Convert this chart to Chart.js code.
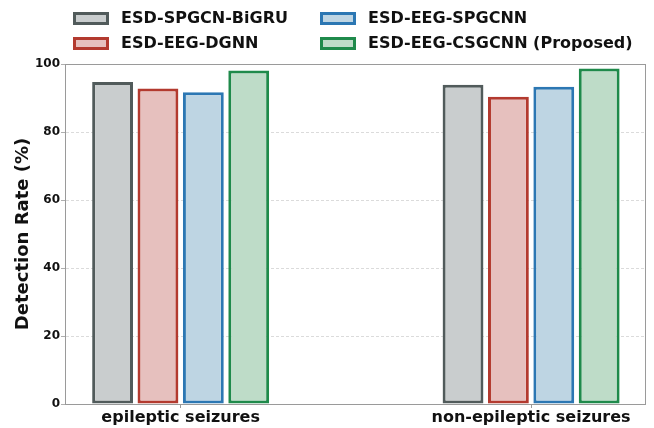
<!DOCTYPE html>
<html>
<head>
<meta charset="utf-8">
<script src="https://cdn.jsdelivr.net/npm/chart.js@4/dist/chart.umd.min.js"></script>
<style>
  html, body { margin: 0; padding: 0; background: #fff; }
  #wrap { width: 654px; height: 428px; position: relative; }
</style>
</head>
<body>
<div id="wrap"><canvas id="c" width="654" height="428"></canvas></div>
<script>
// Detection rate per method for each seizure class
const categories = ['epileptic seizures', 'non-epileptic seizures'];
const methods = ['ESD-SPGCN-BiGRU', 'ESD-EEG-DGNN', 'ESD-EEG-SPGCNN', 'ESD-EEG-CSGCNN (Proposed)'];
const spgcnBigru = [94.7, 93.9];
const eegDgnn = [92.8, 90.4];
const eegSpgcnn = [91.7, 93.3];
const eegCsgcnn = [98.1, 98.7];
const yTicks = [0, 20, 40, 60, 80, 100];

const fills = ['#c9cdce', '#e6c0be', '#bed5e3', '#bedcc8'];
const edges = ['#515b5b', '#b33a2f', '#2c77b3', '#1f8a4b'];
const series = [spgcnBigru, eegDgnn, eegSpgcnn, eegCsgcnn];

const FONT = "'DejaVu Sans', sans-serif";

const datasets = series.map((vals, k) => ({
  label: methods[k],
  data: vals.map((v, i) => ({ x: i, y: v })),
  backgroundColor: fills[k],
  borderColor: edges[k],
  borderWidth: 3,
  borderSkipped: false,
  categoryPercentage: 0.518,
  barPercentage: 0.9
}));

// two-column legend, filled column by column
const legendCols = { id: 'legendCols', afterDraw(chart) {
  const ctx = chart.ctx;
  const pos = [[73, 12], [73, 37], [320, 12], [320, 37]];
  ctx.save();
  ctx.font = 'bold 16px ' + FONT;
  ctx.textBaseline = 'middle';
  chart.data.datasets.forEach((ds, k) => {
    const [x, y] = pos[k];
    ctx.fillStyle = ds.backgroundColor;
    ctx.fillRect(x, y, 36, 13);
    ctx.strokeStyle = ds.borderColor;
    ctx.lineWidth = 3;
    ctx.strokeRect(x + 1.5, y + 1.5, 33, 10);
    ctx.fillStyle = '#111';
    ctx.fillText(ds.label, x + 48, y + 7);
  });
  ctx.restore();
}};

// frame around the plotting area
const frame = { id: 'frame', afterDatasetsDraw(chart) {
  const a = chart.chartArea, ctx = chart.ctx;
  ctx.save();
  ctx.strokeStyle = '#9a9a9a';
  ctx.lineWidth = 1;
  ctx.strokeRect(Math.round(a.left) + 0.5, Math.round(a.top) + 0.5,
                 Math.round(a.right - a.left), Math.round(a.bottom - a.top));
  ctx.restore();
}};

new Chart(document.getElementById('c'), {
  type: 'bar',
  data: { datasets },
  plugins: [legendCols, frame],
  options: {
    responsive: false,
    animation: false,
    layout: { padding: { top: 64, right: 9, bottom: 0, left: 0 } },
    plugins: { legend: { display: false }, tooltip: { enabled: false } },
    scales: {
      x: {
        type: 'linear',
        offset: false,
        min: -0.33,
        max: 1.325,
        afterBuildTicks(scale) { scale.ticks = categories.map((_, i) => ({ value: i })); },
        afterFit(scale) { scale.height = 24; },
        ticks: {
          callback: (v) => categories[v],
          color: '#111',
          font: { family: FONT, size: 16, weight: 'bold' },
          padding: 0,
          maxRotation: 0,
          autoSkip: false
        },
        grid: { offset: false, drawOnChartArea: false, drawTicks: true, tickLength: 4, color: '#9a9a9a' },
        border: { color: '#9a9a9a', width: 1 }
      },
      y: {
        min: 0,
        max: 100,
        afterBuildTicks(scale) { scale.ticks = yTicks.map(v => ({ value: v })); },
        afterFit(scale) { scale.width = 65; },
        ticks: {
          color: '#111',
          font: { family: FONT, size: 12, weight: 'bold' },
          padding: 1
        },
        grid: { color: '#d2d2d2', lineWidth: 0.8, tickColor: '#9a9a9a', tickLength: 4, tickBorderDash: [] },
        border: { color: '#9a9a9a', width: 1, dash: [3, 2] },
        title: {
          display: true,
          text: 'Detection Rate (%)',
          color: '#111',
          font: { family: FONT, size: 18, weight: 'bold' },
          padding: { top: 13, bottom: 0 }
        }
      }
    }
  }
});
</script>
</body>
</html>
